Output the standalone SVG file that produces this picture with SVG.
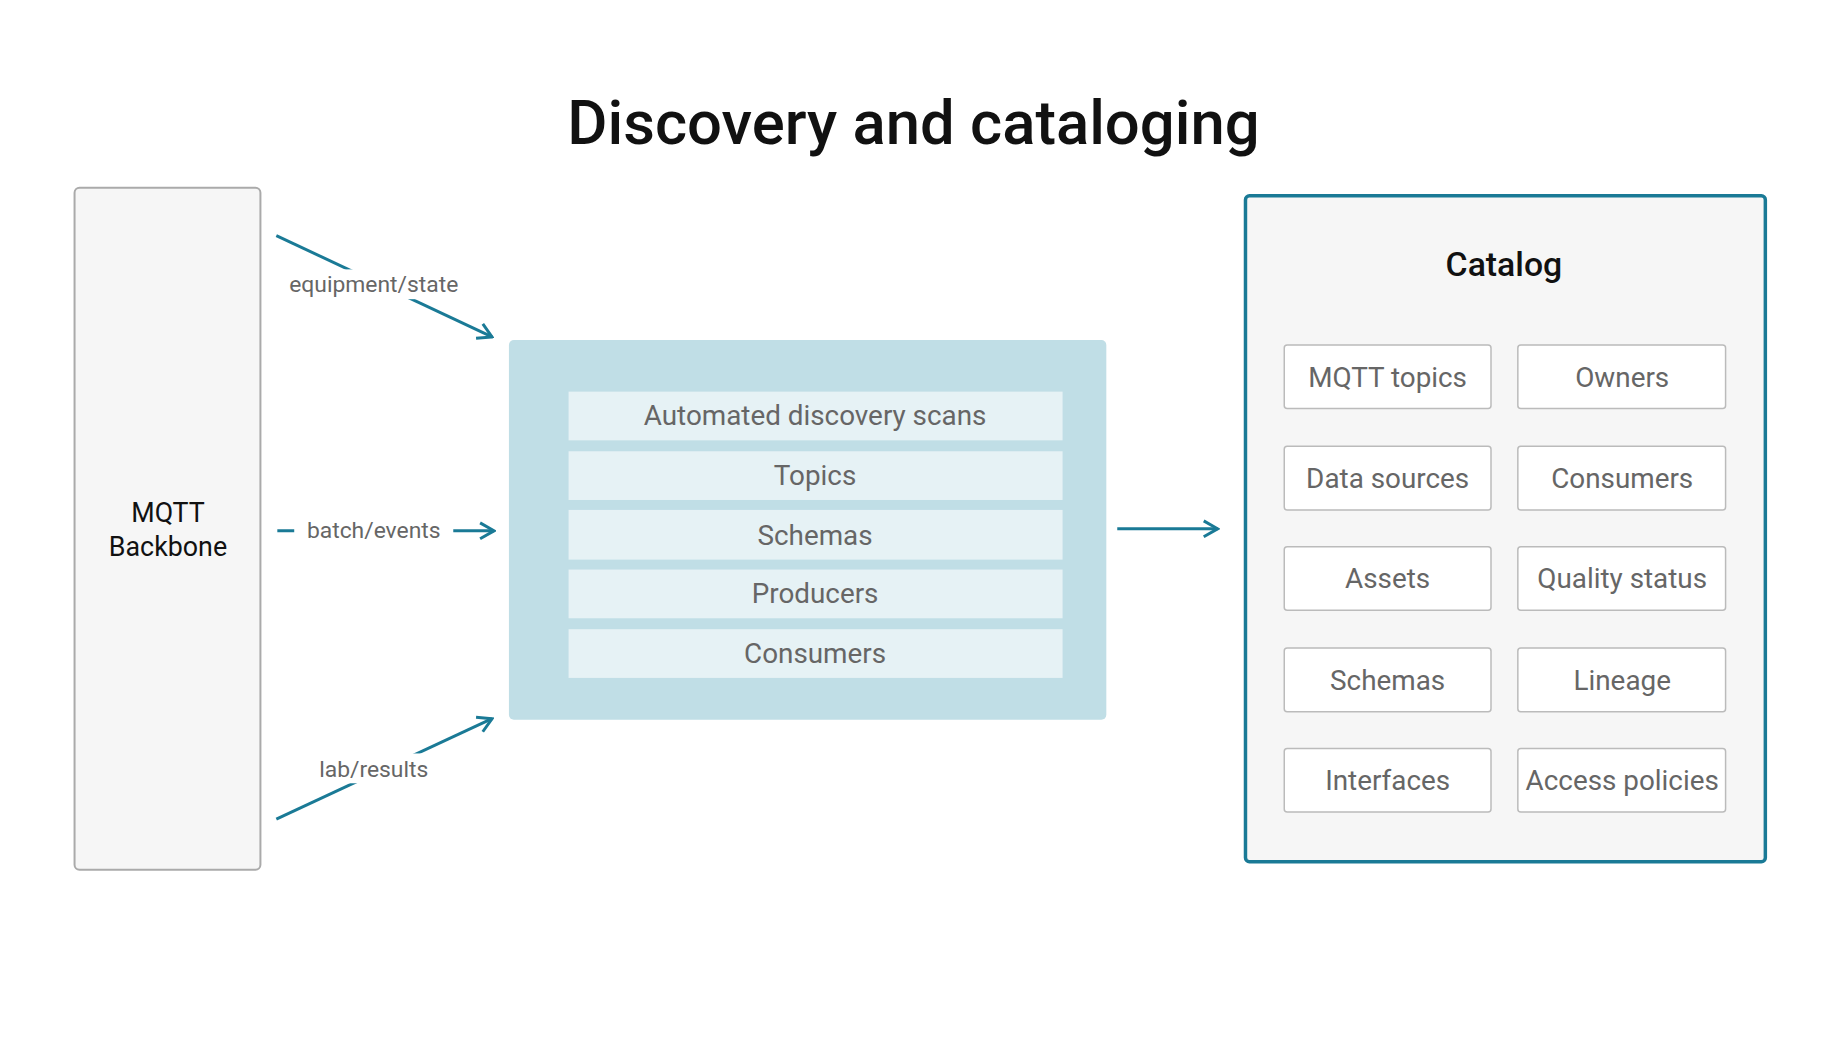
<svg xmlns="http://www.w3.org/2000/svg" width="1828" height="1060" viewBox="0 0 1828 1060">
<style>
text{font-family:Roboto,"Liberation Sans",sans-serif;text-anchor:middle}
.lbl{font-size:23px;fill:#666}
.row{fill:#e6f2f5}
.rt{font-size:28px;fill:#666}
.cell{fill:#fff;stroke:#bbb;stroke-width:1.5}
.ln{stroke:#1a7a96;stroke-width:3;fill:none}
</style>
<defs>
<marker id="ah" viewBox="0 0 20 20" refX="18" refY="10" markerWidth="20" markerHeight="20" markerUnits="userSpaceOnUse" orient="auto">
<path d="M4,2 L18,10 L4,18" fill="none" stroke="#1a7a96" stroke-width="3"/>
</marker>
</defs>
<rect width="1828" height="1060" fill="#fff"/>
<g transform="scale(0.994)">
<text x="919" y="145" style="font-size:62px;font-weight:500;fill:#111">Discovery and cataloging</text>
<g id="mqtt">
<rect x="75" y="189" width="187" height="686" rx="5" fill="#f6f6f6" stroke="#aaa" stroke-width="2"/>
<text x="169" y="525" style="font-size:27px;fill:#111">MQTT</text>
<text x="169" y="559" style="font-size:27px;fill:#111">Backbone</text>
</g>
<g id="connectors">
<line class="ln" x1="278" y1="237" x2="495" y2="339" marker-end="url(#ah)"/>
<rect x="284" y="271" width="184" height="30" fill="#fff"/>
<text class="lbl" x="376" y="294">equipment/state</text>
<line class="ln" x1="279" y1="534" x2="497" y2="534" marker-end="url(#ah)"/>
<rect x="296" y="518" width="160" height="32" fill="#fff"/>
<text class="lbl" x="376" y="541">batch/events</text>
<line class="ln" x1="278" y1="824" x2="495" y2="723" marker-end="url(#ah)"/>
<rect x="308" y="758" width="136" height="30" fill="#fff"/>
<text class="lbl" x="376" y="782">lab/results</text>
<line class="ln" x1="1124" y1="532" x2="1225" y2="532" marker-end="url(#ah)"/>
</g>
<g id="discovery">
<rect x="512" y="342" width="601" height="382" rx="5" fill="#c0dee6"/>
<rect class="row" x="572" y="394" width="497" height="49"/>
<text class="rt" x="820" y="428">Automated discovery scans</text>
<rect class="row" x="572" y="454" width="497" height="49"/>
<text class="rt" x="820" y="488">Topics</text>
<rect class="row" x="572" y="513" width="497" height="50"/>
<text class="rt" x="820" y="548">Schemas</text>
<rect class="row" x="572" y="573" width="497" height="49"/>
<text class="rt" x="820" y="607">Producers</text>
<rect class="row" x="572" y="633" width="497" height="49"/>
<text class="rt" x="820" y="667">Consumers</text>
</g>
<g id="catalog">
<rect x="1253" y="197" width="523" height="670" rx="4" fill="#f6f6f6" stroke="#1a7a96" stroke-width="3.5"/>
<text x="1513" y="278" style="font-size:34px;font-weight:500;fill:#111">Catalog</text>
<rect class="cell" x="1292" y="347" width="208" height="64" rx="3"/><text class="rt" x="1396" y="389">MQTT topics</text>
<rect class="cell" x="1527" y="347" width="209" height="64" rx="3"/><text class="rt" x="1632" y="389">Owners</text>
<rect class="cell" x="1292" y="449" width="208" height="64" rx="3"/><text class="rt" x="1396" y="491">Data sources</text>
<rect class="cell" x="1527" y="449" width="209" height="64" rx="3"/><text class="rt" x="1632" y="491">Consumers</text>
<rect class="cell" x="1292" y="550" width="208" height="64" rx="3"/><text class="rt" x="1396" y="592">Assets</text>
<rect class="cell" x="1527" y="550" width="209" height="64" rx="3"/><text class="rt" x="1632" y="592">Quality status</text>
<rect class="cell" x="1292" y="652" width="208" height="64" rx="3"/><text class="rt" x="1396" y="694">Schemas</text>
<rect class="cell" x="1527" y="652" width="209" height="64" rx="3"/><text class="rt" x="1632" y="694">Lineage</text>
<rect class="cell" x="1292" y="753" width="208" height="64" rx="3"/><text class="rt" x="1396" y="795">Interfaces</text>
<rect class="cell" x="1527" y="753" width="209" height="64" rx="3"/><text class="rt" x="1632" y="795">Access policies</text>
</g>
</g>
</svg>
